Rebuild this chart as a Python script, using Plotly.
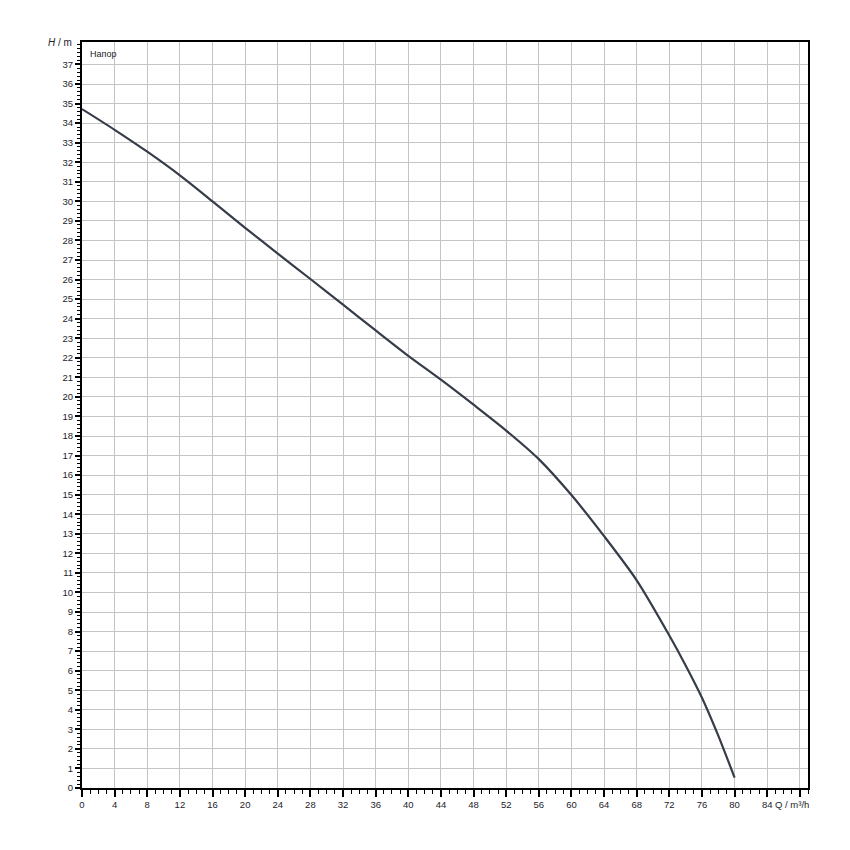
import plotly.graph_objects as go

# Data
flow_q = [0, 4, 8, 12, 16, 20, 24, 28, 32, 36, 40, 44, 48, 52, 56, 60, 64, 68, 72, 74, 76, 78, 80]
head_h = [34.72, 33.66, 32.54, 31.33, 30.0, 28.65, 27.33, 26.03, 24.72, 23.4, 22.1,
          20.88, 19.6, 18.28, 16.82, 14.98, 12.88, 10.62, 7.8, 6.27, 4.62, 2.68, 0.53]

x_tick_vals = list(range(0, 89, 4))
x_tick_text = [str(v) for v in range(0, 85, 4)] + [""]
y_tick_vals = list(range(0, 38))

fig = go.Figure()
fig.add_trace(go.Scatter(x=flow_q, y=head_h, mode="lines",
                         line=dict(color="#363c48", width=2.2, shape="spline", smoothing=0.8),
                         hoverinfo="skip", showlegend=False))

font = dict(family="Liberation Sans, Arial, sans-serif", size=9.5, color="#1c1c2a")

fig.update_layout(
    width=850, height=850,
    margin=dict(l=74, r=50, t=34, b=70),
    paper_bgcolor="white", plot_bgcolor="white",
    font=font,
    xaxis=dict(range=[0, 89], tickmode="array", tickvals=x_tick_vals, ticktext=x_tick_text,
               showgrid=True, gridcolor="#c4c4c4", gridwidth=1,
               showline=True, linecolor="black", linewidth=2, mirror=True,
               ticks="outside", ticklen=7, tickwidth=1.5, tickcolor="black",
               minor=dict(dtick=1, tick0=0, ticks="outside", ticklen=4, tickwidth=1.2,
                          tickcolor="black", showgrid=False),
               zeroline=False, tickfont=font, fixedrange=True),
    yaxis=dict(range=[0, 38.15], tickmode="array", tickvals=y_tick_vals,
               ticktext=[str(v) for v in y_tick_vals],
               showgrid=True, gridcolor="#c4c4c4", gridwidth=1,
               showline=True, linecolor="black", linewidth=2, mirror=True,
               ticks="outside", ticklen=5, tickwidth=1.5, tickcolor="black",
               minor=dict(dtick=0.2, tick0=0, ticks="outside", ticklen=3, tickwidth=1,
                          tickcolor="black", showgrid=False),
               zeroline=False, tickfont=font, fixedrange=True),
    annotations=[
        dict(text="<i>H</i> / m", xref="paper", yref="paper", x=-0.011, y=1.0,
             xanchor="right", yanchor="middle", showarrow=False, font=dict(font, size=10)),
        dict(text="Напор", xref="paper", yref="paper", x=0.008, y=0.993,
             xanchor="left", yanchor="top", showarrow=False, font=dict(font, size=9)),
        dict(text="Q / m³/h", xref="paper", yref="paper", x=1.004, y=-0.012,
             xanchor="right", yanchor="top", showarrow=False, font=font),
    ],
)

fig.write_html("out.html")
